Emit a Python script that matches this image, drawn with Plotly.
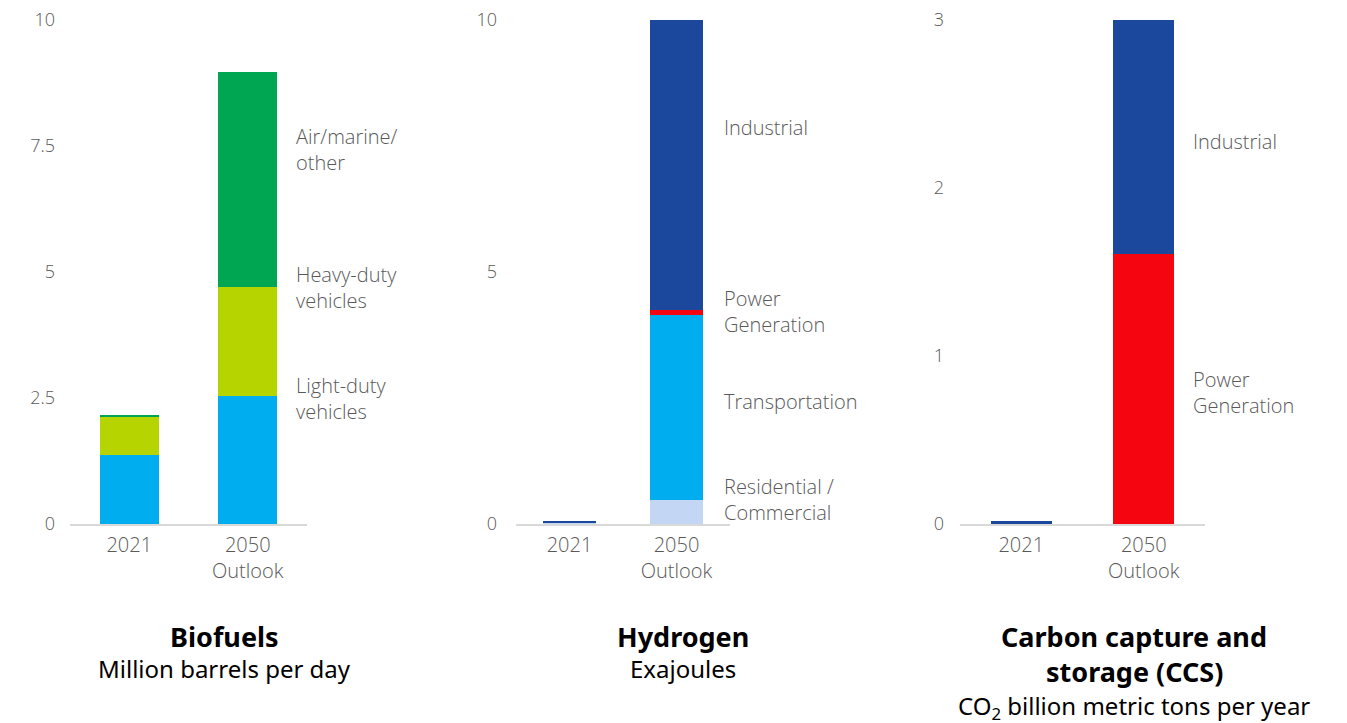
import plotly.graph_objects as go

W, H = 1347, 723
OFF = 8  # page body margin offset

categories = ["2021", "2050<br>Outlook"]

# Biofuels (million barrels per day)
bio_light = [1.37, 2.54]
bio_heavy = [0.77, 2.16]
bio_air = [0.03, 4.27]

# Hydrogen (exajoules)
h2_res = [0.03, 0.48]
h2_trans = [0.0, 3.67]
h2_power = [0.0, 0.09]
h2_ind = [0.02, 5.76]

# CCS (billion metric tons CO2 per year)
ccs_power = [0.0, 1.61]
ccs_ind = [0.015, 1.39]

bio_ticks = [0, 2.5, 5, 7.5, 10]
bio_ticktext = ["0", "2.5", "5", "7.5", "10"]
h2_ticks = [0, 5, 10]
ccs_ticks = [0, 1, 2, 3]

C_LIGHT = "#00aeef"
C_HEAVY = "#b5d400"
C_AIR = "#00a651"
C_IND = "#1b479c"
C_POWER = "#f5050f"
C_TRANS = "#00aeef"
C_RES = "#c3d7f5"

GREY = "#595959"
FONT = "Open Sans"

def px(x):
    return (x - OFF) / W

def py(y):
    return 1 - (y - OFF) / H

fig = go.Figure()

def add_bar(vals, color, xa, ya, name):
    fig.add_trace(go.Bar(x=categories, y=vals, marker=dict(color=color, line=dict(width=0)),
                         width=0.5, xaxis=xa, yaxis=ya, name=name, hoverinfo="y+name"))

add_bar(bio_light, C_LIGHT, "x", "y", "Light-duty vehicles")
add_bar(bio_heavy, C_HEAVY, "x", "y", "Heavy-duty vehicles")
add_bar(bio_air, C_AIR, "x", "y", "Air/marine/other")

add_bar(h2_res, C_RES, "x2", "y2", "Residential / Commercial")
add_bar(h2_trans, C_TRANS, "x2", "y2", "Transportation")
add_bar(h2_power, C_POWER, "x2", "y2", "Power Generation")
add_bar(h2_ind, C_IND, "x2", "y2", "Industrial")

add_bar(ccs_power, C_POWER, "x3", "y3", "Power Generation")
add_bar(ccs_ind, C_IND, "x3", "y3", "Industrial")

ydom = [py(524), py(20)]

def xaxis_cfg(x0, x1):
    return dict(domain=[px(x0), px(x1)], type="category", range=[-0.5, 1.5],
                showline=True, linecolor="#d9d9d9", linewidth=2, ticks="",
                showgrid=False, zeroline=False, automargin=False, ticklabeloverflow="allow",
                tickfont=dict(family=FONT, size=20, color=GREY, weight=300), ticklabelstandoff=2)

def yaxis_cfg(anchor, rng, tv, standoff):
    return dict(domain=ydom, anchor=anchor, range=rng, tickvals=tv, automargin=False,
                showgrid=False, zeroline=False, showline=False, ticks="",
                ticklabeloverflow="allow",
                tickfont=dict(family=FONT, size=18, color=GREY, weight=300), ticklabelstandoff=standoff)

fig.update_layout(
    width=W, height=H, margin=dict(l=0, r=0, t=0, b=0, autoexpand=False),
    paper_bgcolor="white", plot_bgcolor="white",
    barmode="stack", showlegend=False, bargap=0.5,
    xaxis=dict(**xaxis_cfg(70, 307), anchor="y"),
    yaxis=dict(**yaxis_cfg("x", [0, 10], bio_ticks, 14), ticktext=bio_ticktext),
    xaxis2=dict(**xaxis_cfg(516, 730), anchor="y2"),
    yaxis2=yaxis_cfg("x2", [0, 10], h2_ticks, 18),
    xaxis3=dict(**xaxis_cfg(960, 1205), anchor="y3"),
    yaxis3=yaxis_cfg("x3", [0, 3], ccs_ticks, 15),
)

seg_labels = [
    (294, 150, "Air/marine/<br>other"),
    (294, 288, "Heavy-duty<br>vehicles"),
    (294, 398, "Light-duty<br>vehicles"),
    (722, 128, "Industrial"),
    (722, 311, "Power<br>Generation"),
    (722, 402, "Transportation"),
    (722, 499, "Residential /<br>Commercial"),
    (1191, 141, "Industrial"),
    (1191, 392, "Power<br>Generation"),
]
for x, y, t in seg_labels:
    fig.add_annotation(x=px(x), y=py(y), xref="paper", yref="paper", text=t, showarrow=False,
                       xanchor="left", yanchor="middle", align="left",
                       font=dict(family=FONT, size=20, color=GREY, weight=300))

titles = [
    (224, 636, "<b>Biofuels</b>", 27),
    (224, 668, "Million barrels per day", 24),
    (683, 636, "<b>Hydrogen</b>", 27),
    (683, 668, "Exajoules", 24),
    (1134, 636, "<b>Carbon capture and</b>", 27),
    (1134, 671, "<b>storage (CCS)</b>", 27),
    (1134, 707, "CO<sub>2</sub> billion metric tons per year", 24),
]
for x, y, t, s in titles:
    fig.add_annotation(x=px(x), y=py(y), xref="paper", yref="paper", text=t, showarrow=False,
                       xanchor="center", yanchor="middle",
                       font=dict(family="Noto Sans", size=s, color="#000000"))

fig.write_html("out.html")
